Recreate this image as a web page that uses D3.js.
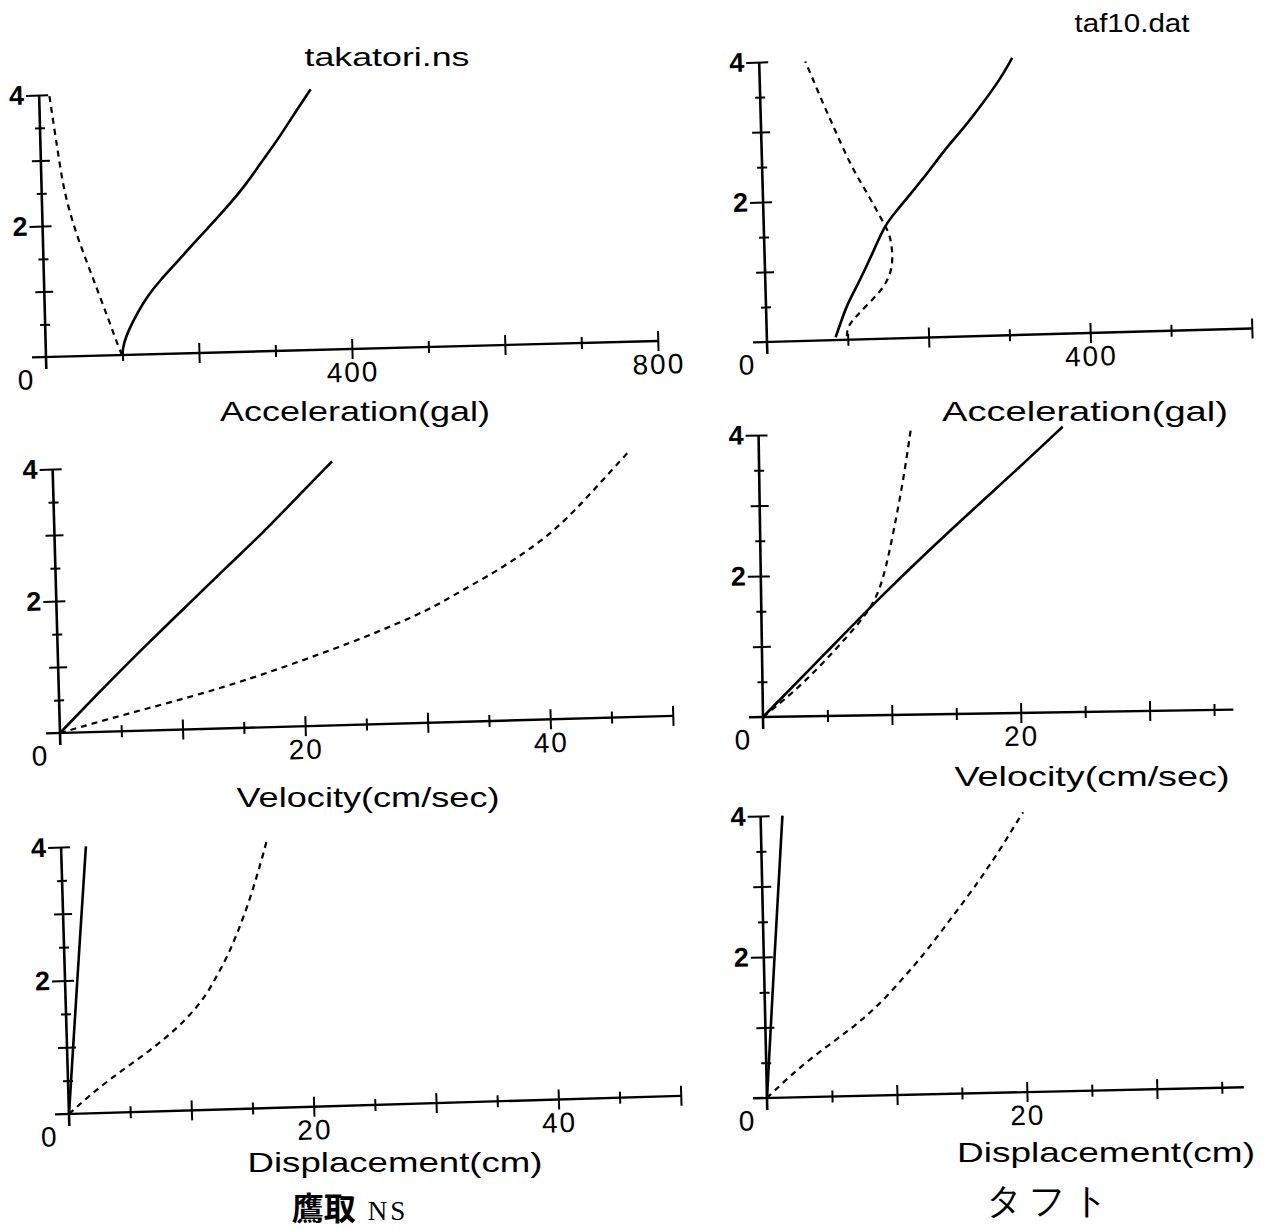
<!DOCTYPE html>
<html>
<head>
<meta charset="utf-8">
<script src="https://cdn.jsdelivr.net/npm/d3@7"></script>
<style>
body { margin: 0; background: #fff; }
text { font-family: "Liberation Sans", Arial, sans-serif; fill: #000; }
</style>
</head>
<body>
<script>
// depth axis (same on every panel)
var depthTicks = [0.5, 1, 1.5, 2, 2.5, 3, 3.5, 4];
var depthLabels = [2, 4];

// tick values / labels per horizontal axis
var accTicksTak = [100, 200, 300, 400, 500, 600, 700, 800];
var accLabelsTak = [400, 800];
var accTicksTaf = [100, 200, 300, 400, 500, 600];
var accLabelsTaf = [400];
var velTicksTak = [5, 10, 15, 20, 25, 30, 35, 40, 45, 50];
var velLabelsTak = [20, 40];
var velTicksTaf = [5, 10, 15, 20, 25, 30, 35];
var velLabelsTaf = [20];
var dispTicksTak = [5, 10, 15, 20, 25, 30, 35, 40, 45, 50];
var dispLabelsTak = [20, 40];
var dispTicksTaf = [5, 10, 15, 20, 25, 30, 35];
var dispLabelsTaf = [20];

// curves: [value, depth], ordered by depth
var accTakSolid = [[99.6,0],[102,0.18],[109,0.38],[120.6,0.63],[134,0.88],[152,1.13],[175,1.40],[197,1.68],[220,1.95],[242,2.22],[265,2.52],[287,2.87],[310,3.22],[332,3.60],[355,3.98]];
var accTakDashed = [[99.6,0],[97.6,0.05],[93.4,0.18],[83.3,0.54],[71,0.95],[58.8,1.36],[46.6,1.77],[36.6,2.17],[28.7,2.58],[24,2.99],[19,3.45],[13.4,3.98]];
var accTafSolid = [[85,0.04],[90,0.19],[100,0.50],[115,0.80],[131,1.16],[150,1.63],[164,1.81],[185,2.09],[206,2.37],[226,2.67],[251,2.98],[272,3.28],[297,3.65],[313,3.96]];
var accTafDashed = [[99,0.05],[100,0.19],[111,0.33],[127,0.51],[144,0.70],[154,0.89],[158,1.08],[158,1.27],[156,1.46],[150,1.62],[140,1.84],[127,2.13],[115,2.37],[102,2.70],[90,3.04],[78,3.37],[65,3.76],[57,3.99]];
var velTakSolid = [[0,0],[3.5,0.64],[7.0,1.26],[10.5,1.85],[14.0,2.45],[16.9,2.93],[19.6,3.42],[22.8,4.0]];
var velTakDashed = [[0,0],[5.2,0.25],[11.0,0.5],[15.8,0.75],[20.0,1.0],[24.0,1.25],[27.6,1.5],[30.8,1.75],[33.2,2.0],[35.8,2.25],[38.0,2.5],[40.0,2.75],[41.6,3.0],[43.0,3.25],[44.3,3.5],[45.6,3.75],[46.9,4.0]];
var velTafSolid = [[0,0],[5.2,0.94],[9.2,1.67],[15.0,2.65],[20.0,3.45],[23.6,4.05]];
var velTafDashed = [[0,0],[3.2,0.46],[6.7,1.13],[8.7,1.55],[9.6,1.98],[10.4,2.64],[11.2,3.35],[11.8,4.03]];
var dispTakSolid = [[0,0],[0.5,1.0],[1.0,2.0],[2.03,4.0]];
var dispTakDashed = [[0,0],[1.6,0.25],[3.4,0.5],[5.45,0.75],[7.4,1.0],[9.1,1.25],[10.5,1.5],[11.6,1.75],[12.4,2.0],[13.2,2.25],[13.85,2.5],[14.45,2.75],[15.0,3.0],[15.5,3.25],[15.95,3.5],[16.4,3.75],[16.8,4.0]];
var dispTafSolid = [[0,0],[0.82,2.0],[1.68,4.0]];
var dispTafDashed = [[0,0],[0.47,0.08],[1.78,0.30],[3.34,0.53],[4.90,0.74],[6.47,0.94],[7.77,1.13],[9.07,1.34],[10.6,1.64],[11.85,1.89],[13.2,2.19],[14.4,2.47],[15.6,2.75],[16.75,3.03],[17.6,3.25],[18.55,3.5],[19.4,3.75],[20.2,3.97]];

var svg = d3.select("body").append("svg")
    .attr("width", 1282)
    .attr("height", 1230);

svg.append("rect").attr("width", 1282).attr("height", 1230).attr("fill", "#fff");

// layout of each panel (origin, size, scan tilt)
var panels = [
  {ox: 46, oy: 357, w: 612, h: 262, rot: -1.5, xmax: 800, xend: 800, major: 200, ticks: accTicksTak, labels: accLabelsTak, solid: accTakSolid, dashed: accTakDashed},
  {ox: 767, oy: 342, w: 485, h: 280, rot: -1.6, xmax: 600, xend: 600, major: 200, ticks: accTicksTaf, labels: accLabelsTaf, solid: accTafSolid, dashed: accTafDashed},
  {ox: 60, oy: 733, w: 613, h: 264, rot: -1.6, xmax: 50, xend: 50, major: 10, ticks: velTicksTak, labels: velLabelsTak, solid: velTakSolid, dashed: velTakDashed},
  {ox: 763, oy: 717, w: 464, h: 282, rot: -0.9, xmax: 36, xend: 36.5, major: 10, ticks: velTicksTaf, labels: velLabelsTaf, solid: velTafSolid, dashed: velTafDashed},
  {ox: 69, oy: 1114, w: 612, h: 267, rot: -1.7, xmax: 50, xend: 50, major: 10, ticks: dispTicksTak, labels: dispLabelsTak, solid: dispTakSolid, dashed: dispTakDashed},
  {ox: 767, oy: 1098, w: 477, h: 282, rot: -1.3, xmax: 36.7, xend: 36.7, major: 10, ticks: dispTicksTaf, labels: dispLabelsTaf, solid: dispTafSolid, dashed: dispTafDashed}
];

function drawPanel(p) {
  var g = svg.append("g")
      .attr("transform", "translate(" + p.ox + "," + p.oy + ") rotate(" + p.rot + ")");

  var x = d3.scaleLinear().domain([0, p.xmax]).range([0, p.w]);
  var y = d3.scaleLinear().domain([0, 4]).range([0, -p.h]);

  // horizontal axis, ticks cross the line
  var xa = g.append("g")
      .call(d3.axisBottom(x)
        .tickValues(p.ticks)
        .tickSizeOuter(0)
        .tickFormat(function(d) { return p.labels.indexOf(d) >= 0 ? d : ""; }));
  xa.select(".domain").remove();
  xa.append("line")
      .attr("x1", -14).attr("x2", x(p.xend))
      .attr("stroke", "#000").attr("stroke-width", 2.4);
  xa.selectAll(".tick line")
      .attr("stroke-width", 2)
      .attr("y1", function(d) { return d % p.major === 0 ? -10 : -6; })
      .attr("y2", function(d) { return d % p.major === 0 ? 10 : 6; });
  xa.selectAll(".tick text")
      .attr("y", 13)
      .attr("font-family", "Liberation Sans, Arial, sans-serif")
      .attr("font-size", 28)
      .attr("letter-spacing", 2);

  // vertical axis
  var ya = g.append("g")
      .call(d3.axisLeft(y)
        .tickValues(depthTicks)
        .tickSizeOuter(0)
        .tickFormat(function(d) { return depthLabels.indexOf(d) >= 0 ? d : ""; }));
  ya.select(".domain").remove();
  ya.append("line")
      .attr("y1", 12).attr("y2", y(4))
      .attr("stroke", "#000").attr("stroke-width", 2.6);
  ya.selectAll(".tick line")
      .attr("stroke-width", 2)
      .attr("x1", function(d) { return depthLabels.indexOf(d) >= 0 ? -13 : (d % 1 === 0 ? -9 : -5); })
      .attr("x2", function(d) { return d % 1 === 0 ? 9 : 5; });
  ya.selectAll(".tick text")
      .attr("x", -15)
      .attr("font-family", "Liberation Sans, Arial, sans-serif")
      .attr("font-size", 27)
      .attr("font-weight", "bold");

  g.append("text")
      .attr("x", -21).attr("y", 32)
      .attr("text-anchor", "middle")
      .attr("font-size", 28)
      .text("0");

  var line = d3.line()
      .x(function(d) { return x(d[0]); })
      .y(function(d) { return y(d[1]); })
      .curve(d3.curveBasis);

  g.append("path")
      .datum(p.solid)
      .attr("d", line)
      .attr("fill", "none")
      .attr("stroke", "#000")
      .attr("stroke-width", 2.6);

  g.append("path")
      .datum(p.dashed)
      .attr("d", line)
      .attr("fill", "none")
      .attr("stroke", "#000")
      .attr("stroke-width", 2.2)
      .attr("stroke-dasharray", "6,5");
}

panels.forEach(drawPanel);

// titles and axis names
function label(txt, cx, by, size, len) {
  svg.append("text")
      .attr("x", cx).attr("y", by)
      .attr("text-anchor", "middle")
      .attr("font-size", size)
      .attr("textLength", len)
      .attr("lengthAdjust", "spacingAndGlyphs")
      .text(txt);
}

label("takatori.ns", 387, 66, 26, 165);
label("taf10.dat", 1132, 32, 26, 115);
label("Acceleration(gal)", 355, 421, 28, 270);
label("Acceleration(gal)", 1085, 421, 28, 286);
label("Velocity(cm/sec)", 368, 807, 28, 263);
label("Velocity(cm/sec)", 1092, 786, 28, 275);
label("Displacement(cm)", 395, 1172, 28, 295);
label("Displacement(cm)", 1106, 1162, 28, 298);

// captions
var cap1 = svg.append("text")
    .attr("x", 350).attr("y", 1220)
    .attr("text-anchor", "middle");
cap1.append("tspan")
    .attr("font-family", "Noto Sans CJK JP")
    .attr("font-weight", "bold")
    .attr("font-size", 32)
    .text("鷹取");
cap1.append("tspan")
    .attr("font-family", "Liberation Serif, serif")
    .attr("font-size", 27)
    .attr("dx", 12)
    .attr("letter-spacing", 3)
    .text("NS");

svg.append("text")
    .attr("x", 1050).attr("y", 1213)
    .attr("text-anchor", "middle")
    .attr("font-family", "Noto Sans CJK JP")
    .attr("font-size", 36)
    .attr("letter-spacing", 6)
    .text("タフト");
</script>
</body>
</html>
